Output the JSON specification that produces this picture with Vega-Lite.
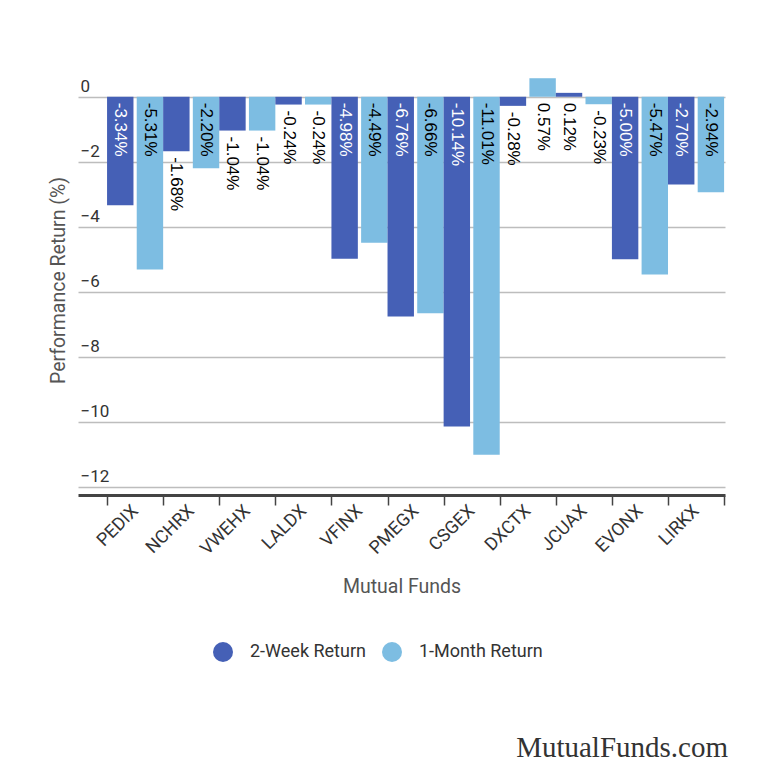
{
  "$schema": "https://vega.github.io/schema/vega-lite/v6.json",
  "width": 647,
  "height": 421,
  "autosize": {"type": "none"},
  "padding": {"left": 78, "top": 74, "right": 45, "bottom": 287},
  "config": {"font": "Roboto", "view": {"stroke": null}},
  "title": {
    "text": "MutualFunds.com",
    "orient": "bottom",
    "anchor": "end",
    "font": "Liberation Serif",
    "fontSize": 29,
    "fontWeight": "normal",
    "color": "#333333",
    "offset": 72,
    "dx": 3
  },
  "data": {
    "values": [
      {"fund": "PEDIX", "series": "2-Week Return", "value": -3.34, "label": "-3.34%"},
      {"fund": "PEDIX", "series": "1-Month Return", "value": -5.31, "label": "-5.31%"},
      {"fund": "NCHRX", "series": "2-Week Return", "value": -1.68, "label": "-1.68%"},
      {"fund": "NCHRX", "series": "1-Month Return", "value": -2.20, "label": "-2.20%"},
      {"fund": "VWEHX", "series": "2-Week Return", "value": -1.04, "label": "-1.04%"},
      {"fund": "VWEHX", "series": "1-Month Return", "value": -1.04, "label": "-1.04%"},
      {"fund": "LALDX", "series": "2-Week Return", "value": -0.24, "label": "-0.24%"},
      {"fund": "LALDX", "series": "1-Month Return", "value": -0.24, "label": "-0.24%"},
      {"fund": "VFINX", "series": "2-Week Return", "value": -4.98, "label": "-4.98%"},
      {"fund": "VFINX", "series": "1-Month Return", "value": -4.49, "label": "-4.49%"},
      {"fund": "PMEGX", "series": "2-Week Return", "value": -6.76, "label": "-6.76%"},
      {"fund": "PMEGX", "series": "1-Month Return", "value": -6.66, "label": "-6.66%"},
      {"fund": "CSGEX", "series": "2-Week Return", "value": -10.14, "label": "-10.14%"},
      {"fund": "CSGEX", "series": "1-Month Return", "value": -11.01, "label": "-11.01%"},
      {"fund": "DXCTX", "series": "2-Week Return", "value": -0.28, "label": "-0.28%"},
      {"fund": "DXCTX", "series": "1-Month Return", "value": 0.57, "label": "0.57%"},
      {"fund": "JCUAX", "series": "2-Week Return", "value": 0.12, "label": "0.12%"},
      {"fund": "JCUAX", "series": "1-Month Return", "value": -0.23, "label": "-0.23%"},
      {"fund": "EVONX", "series": "2-Week Return", "value": -5.00, "label": "-5.00%"},
      {"fund": "EVONX", "series": "1-Month Return", "value": -5.47, "label": "-5.47%"},
      {"fund": "LIRKX", "series": "2-Week Return", "value": -2.70, "label": "-2.70%"},
      {"fund": "LIRKX", "series": "1-Month Return", "value": -2.94, "label": "-2.94%"}
    ]
  },
  "encoding": {
    "x": {
      "field": "fund",
      "type": "nominal",
      "sort": null,
      "scale": {"paddingInner": 0, "paddingOuter": 0.267, "align": 0.97},
      "axis": {
        "title": "Mutual Funds",
        "titleFont": "Roboto",
        "titleFontSize": 19.5,
        "titleFontWeight": "normal",
        "titleColor": "#555555",
        "titleY": 91,
        "titleBaseline": "middle",
        "labelAngle": -45,
        "labelAlign": "right",
        "labelBaseline": "middle",
        "labelPadding": 3,
        "labelFontSize": 18,
        "labelColor": "#333333",
        "domainColor": "#444444",
        "domainWidth": 3,
        "tickColor": "#444444",
        "tickWidth": 1.5,
        "tickSize": 10,
        "tickBand": "extent",
        "grid": false
      }
    },
    "xOffset": {
      "field": "series",
      "type": "nominal",
      "scale": {"domain": ["2-Week Return", "1-Month Return"], "paddingInner": 0.11, "paddingOuter": 0}
    },
    "y": {
      "type": "quantitative",
      "scale": {"domain": [-12.25, 0.7], "nice": false, "zero": false},
      "title": "Performance Return (%)",
      "axis": {
        "title": "Performance Return (%)",
        "titleFont": "Roboto",
        "titleFontSize": 19.5,
        "titleFontWeight": "normal",
        "titleColor": "#555555",
        "titleX": -20,
        "titleY": 206,
        "titleAlign": "center",
        "titleBaseline": "middle",
        "values": [0, -2, -4, -6, -8, -10, -12],
        "grid": true,
        "gridColor": "#bdbdbd",
        "gridWidth": 1.5,
        "domain": false,
        "ticks": false,
        "tickSize": 0,
        "labelAlign": "left",
        "labelBaseline": "alphabetic",
        "labelPadding": -2,
        "labelOffset": -5,
        "labelFontSize": 17,
        "labelColor": "#333333"
      }
    }
  },
  "layer": [
    {
      "mark": {"type": "bar"},
      "encoding": {
        "y": {"field": "value"},
        "color": {
          "field": "series",
          "type": "nominal",
          "scale": {"domain": ["2-Week Return", "1-Month Return"], "range": ["#4560b6", "#7dbde2"]},
          "legend": {
            "orient": "none",
            "legendX": 135,
            "legendY": 568,
            "direction": "horizontal",
            "title": null,
            "symbolType": "circle",
            "symbolSize": 400,
            "symbolStrokeWidth": 0,
            "symbolOpacity": 1,
            "labelFont": "Roboto",
            "labelFontSize": 18,
            "labelColor": "#333333",
            "labelOffset": 17,
            "columnPadding": 16
          }
        }
      }
    },
    {
      "transform": [{"filter": "datum.value <= -1.9 || datum.value > 0"}],
      "mark": {"type": "text", "angle": 90, "align": "left", "baseline": "middle", "dx": 6, "font": "Liberation Sans", "fontSize": 17},
      "encoding": {
        "y": {"datum": 0},
        "text": {"field": "label", "type": "nominal"},
        "color": {
          "condition": {"test": "datum.series == '2-Week Return' && datum.value < 0", "value": "#ffffff"},
          "value": "#000000"
        }
      }
    },
    {
      "transform": [{"filter": "datum.value > -1.9 && datum.value < 0"}],
      "mark": {"type": "text", "angle": 90, "align": "left", "baseline": "middle", "dx": 6, "font": "Liberation Sans", "fontSize": 17, "color": "#000000"},
      "encoding": {
        "y": {"field": "value"},
        "text": {"field": "label", "type": "nominal"}
      }
    }
  ]
}
